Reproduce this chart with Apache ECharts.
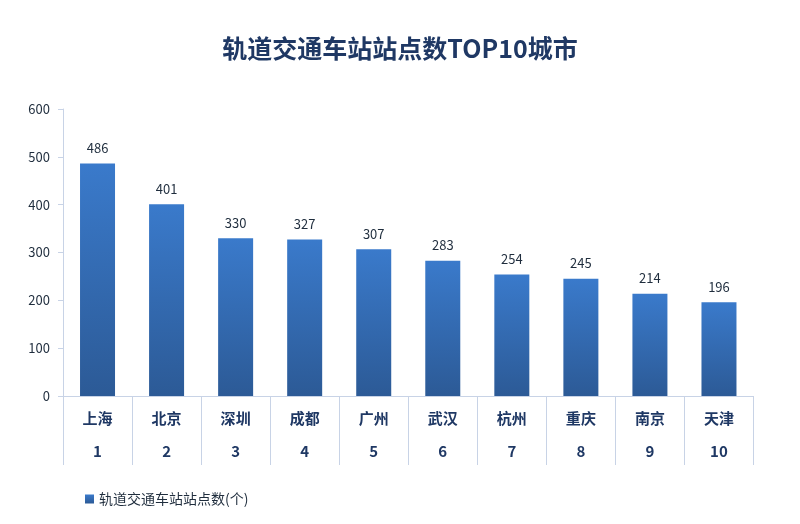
<!DOCTYPE html>
<html><head><meta charset="utf-8">
<script src="https://cdn.jsdelivr.net/npm/echarts@6/dist/echarts.min.js"></script>
<style>html,body{margin:0;padding:0;background:#fff}#c{width:800px;height:524px}</style>
</head><body><div id="c"></div>
<script>
const cities = ['上海','北京','深圳','成都','广州','武汉','杭州','重庆','南京','天津'];
const ranks = ['1','2','3','4','5','6','7','8','9','10'];
const stations = [486,401,330,327,307,283,254,245,214,196];
const yTicks = {min:0, max:600, interval:100};

const font = '"Noto Sans CJK SC","Noto Sans",sans-serif';
const navy = '#1f3864';
const chart = echarts.init(document.getElementById('c'));
chart.setOption({
  animation:false,
  textStyle:{fontFamily:font},
  title:{text:'轨道交通车站站点数TOP10城市',left:'center',top:31,
    textStyle:{fontSize:25,fontWeight:'bold',color:navy,fontFamily:font}},
  legend:{left:80,top:487,itemWidth:9,itemHeight:9,icon:'rect',
    textStyle:{fontSize:14,color:'#1f2d3d',fontFamily:font},
    data:['轨道交通车站站点数(个)']},
  grid:{left:63,right:46.5,top:109,bottom:128,containLabel:false},
  xAxis:[{type:'category',data:cities,position:'bottom',
      axisLine:{lineStyle:{color:'#c8d3e6',width:1}},
      axisTick:{show:true,length:69,interval:0,lineStyle:{color:'#c8d3e6'}},
      axisLabel:{margin:15,fontSize:15,fontWeight:'bold',color:navy,interval:0}},
    {type:'category',data:ranks,position:'bottom',offset:33,
      axisLine:{show:false},axisTick:{show:false},
      axisLabel:{margin:15,fontSize:15,fontWeight:'bold',color:navy,interval:0}}],
  yAxis:{type:'value',min:yTicks.min,max:yTicks.max,interval:yTicks.interval,
    axisLine:{show:true,lineStyle:{color:'#c8d3e6'}},
    axisTick:{show:true,length:5,lineStyle:{color:'#c8d3e6'}},
    splitLine:{show:false},
    axisLabel:{margin:13,fontSize:13,color:'#1f2d3d'}},
  series:[{name:'轨道交通车站站点数(个)',type:'bar',data:stations,barWidth:35,
    itemStyle:{color:new echarts.graphic.LinearGradient(0,0,0,1,[
      {offset:0,color:'#3a7acb'},{offset:1,color:'#2c5a96'}])},
    label:{show:true,position:'top',distance:9,fontSize:13,color:'#1f2d3d'}}]
});
</script></body></html>
